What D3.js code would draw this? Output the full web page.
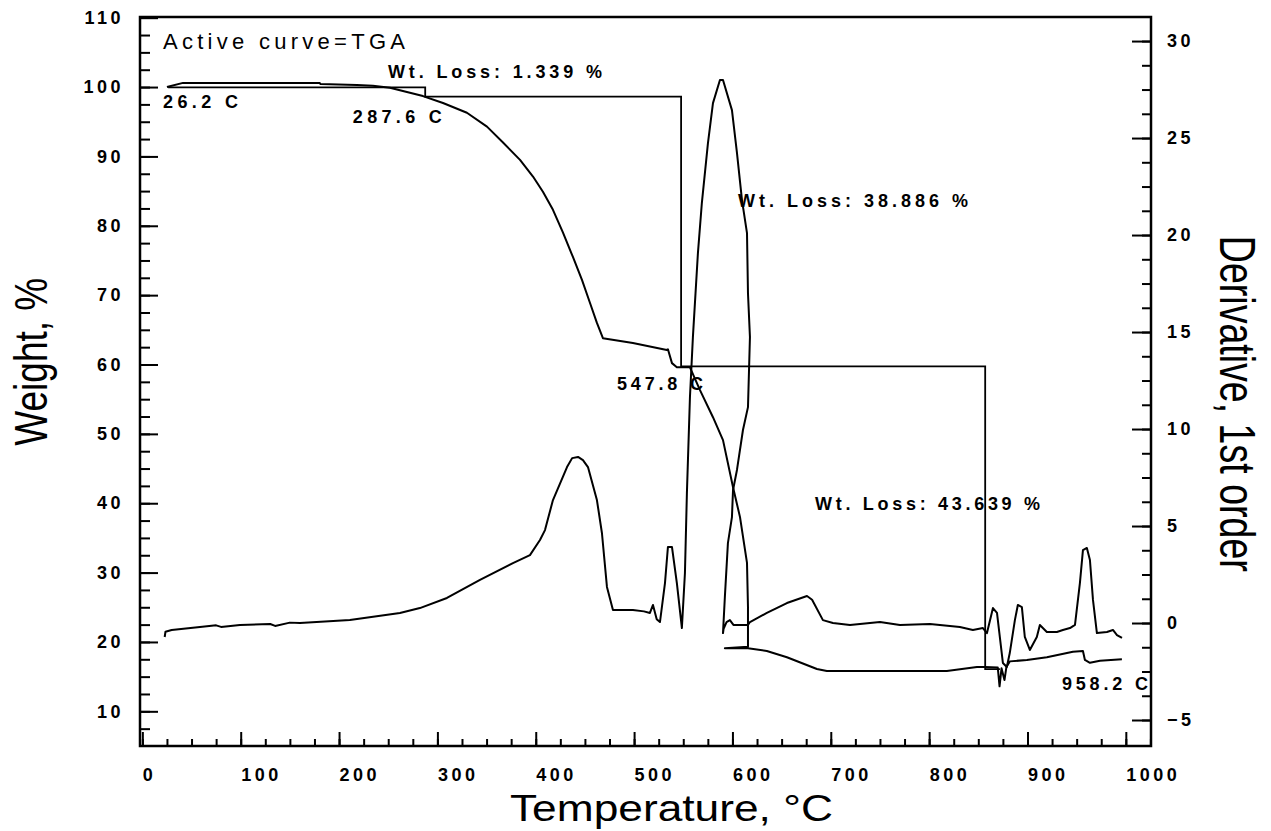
<!DOCTYPE html>
<html>
<head>
<meta charset="utf-8">
<title>TGA / DTG</title>
<script src="https://cdn.jsdelivr.net/npm/d3@7"></script>
<style>
body { margin: 0; background: #fff; }
svg text { font-family: "Liberation Sans", Arial, sans-serif; fill: #000; }
.tick text { font-weight: bold; font-size: 18px; letter-spacing: 3.5px; }
.note { font-weight: bold; font-size: 18px; }
</style>
</head>
<body>
<svg id="chart"></svg>
<script>

// TGA weight curve  [temperature C, weight %]
var tgaWeight = [
	[25.0,100.0],[41.3,100.6],[120,100.6],[180.4,100.6],[181,100.45],[218.1,100.3],[234.4,100.2],
	[251.7,99.9],[269,99.3],[285.3,98.7],[305.7,97.7],[330,96.3],[350.4,94.3],[366.7,92.0],
	[384,89.5],[397.2,87.1],[407.3,84.9],[417.5,82.3],[427.7,79.0],[437.8,75.5],[447,72.2],
	[455.1,68.9],[462.2,66.0],[468.3,63.8],[498.8,63.1],[533.3,62.1],[534.4,62.2],[538.5,60.2],
	[543.5,59.6],[556.8,59.6],[567,56.3],[580.2,52.4],[590.4,49.1],[600.6,42.3],[607.7,38.0],
	[614.8,31.4],[615.8,25.0],[615.8,19.3],[592.3,19.1],[615.8,19.1],[635,18.7],[655.4,17.8],
	[685.9,16.1],[696,15.8],[818,15.8],[848.6,16.4],[856.7,16.4],[869.8,16.3],[871.6,13.6],
	[873.6,16.2],[876.6,14.5],[878.6,16.4],[882,17.2],[899.4,17.4],[919.7,17.8],[946.2,18.6],
	[956.4,18.7],[958.4,17.4],[963.5,17.0],[973.7,17.3],[996,17.5]
];

// derivative curve  [temperature C, derivative]
var dtgDeriv = [
	[22.7,-0.72],[23.5,-0.45],[29.8,-0.36],[58.6,-0.21],[75,-0.12],[80,-0.2],[99.2,-0.1],
	[130,-0.05],[135,-0.15],[150,0.02],[160.2,0.0],[211,0.15],[261.9,0.52],[282.2,0.77],
	[309.7,1.29],[343.3,2.22],[376.8,3.09],[394.1,3.5],[404.3,4.28],[409.4,4.79],[417.5,6.34],
	[431.8,8.04],[437,8.5],[443,8.56],[448,8.4],[453.1,8.04],[462.2,6.34],[467.3,4.64],
	[472.4,1.86],[478.5,0.67],[498.8,0.67],[510,0.6],[516.1,0.52],[519.2,0.93],[523,0.2],
	[526.3,0.05],[531.4,2.06],[534.4,3.92],[538.5,3.92],[543.5,2.06],[548.6,-0.26],[551.7,2.58],
	[553.7,6.7],[556.8,11.65],[559.8,14.74],[564.9,19.07],[568.9,21.65],[575.1,24.74],[580.2,26.8],
	[587.3,27.99],[590.4,27.99],[599.5,26.44],[604.6,24.23],[609.7,21.8],[614.8,20.1],[615.8,17.0],
	[617.8,14.74],[615.8,11.13],[610.7,9.95],[604.6,7.89],[600.6,6.86],[599.5,5.46],[595.4,4.12],
	[592.3,1.34],[590.4,-0.52],[591,-0.3],[594,0.05],[597.4,0.15],[601,-0.1],[604.6,-0.1],
	[615.8,-0.1],[617.8,0.05],[635,0.52],[655.4,1.03],[675.8,1.39],[681,1.2],[692,0.15],
	[702.2,0.0],[719.5,-0.1],[750,0.05],[770.3,-0.1],[800.8,-0.05],[831.3,-0.21],[844.5,-0.36],
	[854.7,-0.26],[858.8,-0.52],[864.9,0.77],[869,0.52],[875,-2.06],[879,-2.27],[882,-1.55],
	[887.2,0.15],[890.2,0.93],[894.3,0.82],[897.3,-0.72],[902.4,-1.39],[909.5,-0.72],[912.6,-0.1],
	[919.7,-0.46],[929.9,-0.46],[936,-0.36],[943.2,-0.26],[948.3,-0.1],[953.3,2.06],[956.4,3.76],
	[960.4,3.87],[963.5,3.25],[966.6,1.19],[970.6,-0.52],[980.8,-0.46],[986.9,-0.36],[991,-0.62],
	[996.1,-0.77]
];

// step analysis (weight loss) lines
var stepTemps = [26.2, 287.6, 547.8, 857, 872];
var stepLevels = [99.95, 98.611, 59.725, 16.086];

var xTicks = d3.range(0, 1001, 100);
var xMinor = d3.range(0, 1026, 25);
var leftTicks = d3.range(10, 111, 10);
var leftMinor = d3.range(7.5, 110, 2.5);
var rightTicks = d3.range(-5, 31, 5);
var rightMinor = d3.range(-5, 31, 1.25);

var notes = [
	{t: 21, w: 105.5, text: "Active curve=TGA", len: 242, bold: false, size: 22},
	{t: 249.7, w: 101.3, text: "Wt. Loss: 1.339 %", len: 214, bold: true, size: 18},
	{t: 605.6, w: 82.7, text: "Wt. Loss: 38.886 %", len: 230, bold: true, size: 18},
	{t: 684, w: 39.0, text: "Wt. Loss: 43.639 %", len: 225, bold: true, size: 18},
	{t: 21, w: 97.0, text: "26.2 C", len: 75, bold: true, size: 18},
	{t: 214, w: 94.8, text: "287.6 C", len: 89, bold: true, size: 18},
	{t: 482.6, w: 56.3, text: "547.8 C", len: 86, bold: true, size: 18},
	{t: 935, w: 13.1, text: "958.2 C", len: 86, bold: true, size: 18}
];

var W = 1271, H = 831;
var margin = {top: 17, right: 120, bottom: 85, left: 140};
var width = W - margin.left - margin.right,
	height = H - margin.top - margin.bottom;

var svg = d3.select("#chart").attr("width", W).attr("height", H);
var chart = svg.append("g")
	.attr("transform", "translate(" + margin.left + "," + margin.top + ")");

var x = d3.scaleLinear().domain([-2.4, 1025.6]).range([0, width]);
var yL = d3.scaleLinear().domain([5, 110.1]).range([height, 0]);
var yR = d3.scaleLinear().domain([-6.34, 31.24]).range([height, 0]);

//axes, ticks pointing inward
function styleAxis(g) {
	g.select(".domain").remove();
	g.selectAll(".tick line").attr("stroke", "#000").attr("stroke-width", 2);
}

chart.append("g").attr("transform", "translate(0," + height + ")")
	.call(d3.axisBottom(x).tickValues(xMinor).tickSize(-7).tickFormat(""))
	.call(styleAxis);
chart.append("g").attr("transform", "translate(0," + height + ")")
	.call(d3.axisBottom(x).tickValues(xTicks).tickSize(-14).tickPadding(22).tickFormat(d3.format("d")))
	.call(styleAxis)
	.selectAll("text").attr("text-anchor", "start");

chart.append("g")
	.call(d3.axisLeft(yL).tickValues(leftMinor).tickSize(-10).tickFormat(""))
	.call(styleAxis);
chart.append("g")
	.call(d3.axisLeft(yL).tickValues(leftTicks).tickSize(-18).tickPadding(16))
	.call(styleAxis);

chart.append("g").attr("transform", "translate(" + width + ",0)")
	.call(d3.axisRight(yR).tickValues(rightMinor).tickSize(-9).tickFormat(""))
	.call(styleAxis);
chart.append("g").attr("transform", "translate(" + width + ",0)")
	.call(d3.axisRight(yR).tickValues(rightTicks).tickSize(-19).tickPadding(16))
	.call(styleAxis);

chart.append("rect")
	.attr("width", width).attr("height", height)
	.attr("fill", "none").attr("stroke", "#000").attr("stroke-width", 2.5);

//curves
var lineW = d3.line().x(function(d) {return x(d[0]);}).y(function(d) {return yL(d[1]);});
var lineD = d3.line().x(function(d) {return x(d[0]);}).y(function(d) {return yR(d[1]);});

var steps = [];
stepLevels.forEach(function(l, i) {
	steps.push([stepTemps[i], l]);
	steps.push([stepTemps[i + 1], l]);
});

chart.append("path").datum(steps)
	.attr("d", lineW).attr("fill", "none").attr("stroke", "#000").attr("stroke-width", 1.8);
chart.append("path").datum(tgaWeight)
	.attr("d", lineW).attr("fill", "none").attr("stroke", "#000").attr("stroke-width", 2)
	.attr("stroke-linejoin", "round");
chart.append("path").datum(dtgDeriv)
	.attr("d", lineD).attr("fill", "none").attr("stroke", "#000").attr("stroke-width", 2)
	.attr("stroke-linejoin", "round");

//annotations
chart.selectAll("text.note").data(notes).enter()
	.append("text")
	.attr("class", "note")
	.attr("x", function(d) {return x(d.t);})
	.attr("y", function(d) {return yL(d.w);})
	.style("font-weight", function(d) {return d.bold ? "bold" : "normal";})
	.style("font-size", function(d) {return d.size + "px";})
	.attr("textLength", function(d) {return d.len;})
	.attr("lengthAdjust", "spacing")
	.text(function(d) {return d.text;});

//axis titles
svg.append("text")
	.attr("transform", "translate(47," + (margin.top + yL(60.4)) + ") rotate(-90)")
	.attr("text-anchor", "middle")
	.style("font-size", "46px")
	.attr("textLength", 168).attr("lengthAdjust", "spacingAndGlyphs")
	.text("Weight, %");

svg.append("text")
	.attr("transform", "translate(1220," + (margin.top + yR(11.3)) + ") rotate(90)")
	.attr("text-anchor", "middle")
	.style("font-size", "50px")
	.attr("textLength", 336).attr("lengthAdjust", "spacingAndGlyphs")
	.text("Derivative, 1st order");

svg.append("text")
	.attr("x", margin.left + x(538))
	.attr("y", 821)
	.attr("text-anchor", "middle")
	.style("font-size", "36px")
	.attr("textLength", 323).attr("lengthAdjust", "spacingAndGlyphs")
	.text("Temperature, \u00B0C");

</script>
</body>
</html>
